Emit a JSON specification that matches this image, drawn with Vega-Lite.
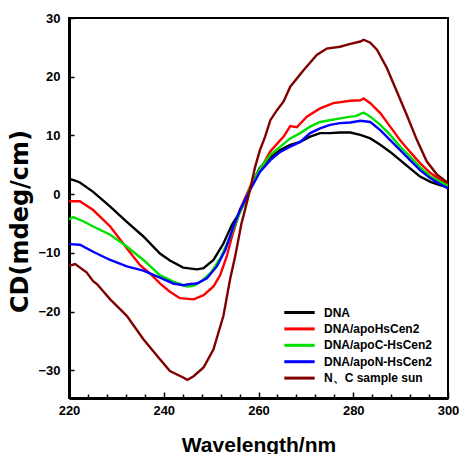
{
  "$schema": "https://vega.github.io/schema/vega-lite/v6.json",
  "autosize": {"type": "none"},
  "width": 379,
  "height": 380,
  "padding": {"left": 69, "top": 18, "right": 14, "bottom": 56},
  "background": "white",
  "config": {
    "view": {"stroke": "#000000", "strokeWidth": 2},
    "font": "Liberation Sans"
  },
  "datasets": {
    "cd": [
      {"s": "DNA", "w": 220, "v": 2.6}, {"s": "DNA", "w": 221, "v": 2.4}, {"s": "DNA", "w": 222.3, "v": 2.0}, {"s": "DNA", "w": 225.1, "v": 0.4}, {"s": "DNA", "w": 228.7, "v": -2.1}, {"s": "DNA", "w": 232.2, "v": -4.7}, {"s": "DNA", "w": 235.7, "v": -7.2}, {"s": "DNA", "w": 239.2, "v": -10.1}, {"s": "DNA", "w": 241.3, "v": -11.3}, {"s": "DNA", "w": 244.1, "v": -12.5}, {"s": "DNA", "w": 247, "v": -12.8}, {"s": "DNA", "w": 248.4, "v": -12.6}, {"s": "DNA", "w": 250.5, "v": -11.2}, {"s": "DNA", "w": 252.6, "v": -8.4}, {"s": "DNA", "w": 254.4, "v": -5.2}, {"s": "DNA", "w": 256.1, "v": -3.0}, {"s": "DNA", "w": 257.5, "v": -0.6}, {"s": "DNA", "w": 258.9, "v": 2.3}, {"s": "DNA", "w": 260.3, "v": 4.5}, {"s": "DNA", "w": 262.5, "v": 6.3}, {"s": "DNA", "w": 264.6, "v": 7.5}, {"s": "DNA", "w": 266.7, "v": 8.4}, {"s": "DNA", "w": 268.8, "v": 8.9}, {"s": "DNA", "w": 270.9, "v": 9.8}, {"s": "DNA", "w": 273, "v": 10.4}, {"s": "DNA", "w": 275.1, "v": 10.4}, {"s": "DNA", "w": 277.2, "v": 10.5}, {"s": "DNA", "w": 279.4, "v": 10.5}, {"s": "DNA", "w": 281.5, "v": 10.1}, {"s": "DNA", "w": 283.6, "v": 9.5}, {"s": "DNA", "w": 285.7, "v": 8.4}, {"s": "DNA", "w": 287.8, "v": 7.2}, {"s": "DNA", "w": 289.9, "v": 5.8}, {"s": "DNA", "w": 292, "v": 4.4}, {"s": "DNA", "w": 294.1, "v": 3.0}, {"s": "DNA", "w": 296.3, "v": 2.1}, {"s": "DNA", "w": 298.4, "v": 1.5}, {"s": "DNA", "w": 300, "v": 1.2},

      {"s": "DNA/apoHsCen2", "w": 220, "v": -1.2}, {"s": "DNA/apoHsCen2", "w": 222.3, "v": -1.2}, {"s": "DNA/apoHsCen2", "w": 225.1, "v": -2.7}, {"s": "DNA/apoHsCen2", "w": 228.7, "v": -5.5}, {"s": "DNA/apoHsCen2", "w": 232.2, "v": -9.2}, {"s": "DNA/apoHsCen2", "w": 235, "v": -12.1}, {"s": "DNA/apoHsCen2", "w": 237.1, "v": -13.5}, {"s": "DNA/apoHsCen2", "w": 239.2, "v": -15.2}, {"s": "DNA/apoHsCen2", "w": 241.3, "v": -16.6}, {"s": "DNA/apoHsCen2", "w": 243.4, "v": -17.7}, {"s": "DNA/apoHsCen2", "w": 246.3, "v": -17.9}, {"s": "DNA/apoHsCen2", "w": 248.4, "v": -17.2}, {"s": "DNA/apoHsCen2", "w": 250.5, "v": -15.7}, {"s": "DNA/apoHsCen2", "w": 251.9, "v": -13.8}, {"s": "DNA/apoHsCen2", "w": 253.3, "v": -10.6}, {"s": "DNA/apoHsCen2", "w": 254.4, "v": -7.2}, {"s": "DNA/apoHsCen2", "w": 255.4, "v": -4.6}, {"s": "DNA/apoHsCen2", "w": 256.1, "v": -2.6}, {"s": "DNA/apoHsCen2", "w": 258.2, "v": 1.2}, {"s": "DNA/apoHsCen2", "w": 260.3, "v": 4.1}, {"s": "DNA/apoHsCen2", "w": 262.5, "v": 7.3}, {"s": "DNA/apoHsCen2", "w": 265.3, "v": 9.8}, {"s": "DNA/apoHsCen2", "w": 266.7, "v": 11.6}, {"s": "DNA/apoHsCen2", "w": 268.1, "v": 11.4}, {"s": "DNA/apoHsCen2", "w": 270.2, "v": 13.2}, {"s": "DNA/apoHsCen2", "w": 273, "v": 14.6}, {"s": "DNA/apoHsCen2", "w": 275.8, "v": 15.5}, {"s": "DNA/apoHsCen2", "w": 279.4, "v": 15.9}, {"s": "DNA/apoHsCen2", "w": 281.5, "v": 16.0}, {"s": "DNA/apoHsCen2", "w": 282.2, "v": 16.3}, {"s": "DNA/apoHsCen2", "w": 283.6, "v": 15.5}, {"s": "DNA/apoHsCen2", "w": 285.7, "v": 13.8}, {"s": "DNA/apoHsCen2", "w": 287.8, "v": 11.5}, {"s": "DNA/apoHsCen2", "w": 289.9, "v": 9.2}, {"s": "DNA/apoHsCen2", "w": 292, "v": 7.2}, {"s": "DNA/apoHsCen2", "w": 294.1, "v": 5.3}, {"s": "DNA/apoHsCen2", "w": 296.3, "v": 3.6}, {"s": "DNA/apoHsCen2", "w": 298.4, "v": 2.4}, {"s": "DNA/apoHsCen2", "w": 300, "v": 1.8},

      {"s": "DNA/apoC-HsCen2", "w": 220, "v": -4.3}, {"s": "DNA/apoC-HsCen2", "w": 220.9, "v": -3.9}, {"s": "DNA/apoC-HsCen2", "w": 223, "v": -4.6}, {"s": "DNA/apoC-HsCen2", "w": 225.1, "v": -5.5}, {"s": "DNA/apoC-HsCen2", "w": 228.7, "v": -6.9}, {"s": "DNA/apoC-HsCen2", "w": 232.2, "v": -8.9}, {"s": "DNA/apoC-HsCen2", "w": 235.7, "v": -11.2}, {"s": "DNA/apoC-HsCen2", "w": 239.2, "v": -13.8}, {"s": "DNA/apoC-HsCen2", "w": 241.3, "v": -14.6}, {"s": "DNA/apoC-HsCen2", "w": 242, "v": -14.9}, {"s": "DNA/apoC-HsCen2", "w": 244.9, "v": -15.7}, {"s": "DNA/apoC-HsCen2", "w": 246.3, "v": -15.6}, {"s": "DNA/apoC-HsCen2", "w": 248, "v": -14.8}, {"s": "DNA/apoC-HsCen2", "w": 250, "v": -13.3}, {"s": "DNA/apoC-HsCen2", "w": 252, "v": -10.8}, {"s": "DNA/apoC-HsCen2", "w": 254, "v": -7.3}, {"s": "DNA/apoC-HsCen2", "w": 256, "v": -3.3}, {"s": "DNA/apoC-HsCen2", "w": 258.2, "v": 1.0}, {"s": "DNA/apoC-HsCen2", "w": 260.3, "v": 4.4}, {"s": "DNA/apoC-HsCen2", "w": 262.5, "v": 6.7}, {"s": "DNA/apoC-HsCen2", "w": 264.6, "v": 8.1}, {"s": "DNA/apoC-HsCen2", "w": 266.7, "v": 9.5}, {"s": "DNA/apoC-HsCen2", "w": 268.8, "v": 10.4}, {"s": "DNA/apoC-HsCen2", "w": 270.9, "v": 11.5}, {"s": "DNA/apoC-HsCen2", "w": 273, "v": 12.3}, {"s": "DNA/apoC-HsCen2", "w": 275.1, "v": 12.6}, {"s": "DNA/apoC-HsCen2", "w": 277.2, "v": 12.9}, {"s": "DNA/apoC-HsCen2", "w": 279.4, "v": 13.2}, {"s": "DNA/apoC-HsCen2", "w": 280.5, "v": 13.3}, {"s": "DNA/apoC-HsCen2", "w": 282.2, "v": 13.9}, {"s": "DNA/apoC-HsCen2", "w": 283.6, "v": 13.2}, {"s": "DNA/apoC-HsCen2", "w": 285.7, "v": 11.8}, {"s": "DNA/apoC-HsCen2", "w": 287.8, "v": 10.1}, {"s": "DNA/apoC-HsCen2", "w": 289.9, "v": 8.1}, {"s": "DNA/apoC-HsCen2", "w": 292, "v": 6.4}, {"s": "DNA/apoC-HsCen2", "w": 294.1, "v": 4.6}, {"s": "DNA/apoC-HsCen2", "w": 296.3, "v": 3.0}, {"s": "DNA/apoC-HsCen2", "w": 298.4, "v": 2.1}, {"s": "DNA/apoC-HsCen2", "w": 300, "v": 1.4},

      {"s": "DNA/apoN-HsCen2", "w": 220, "v": -8.5}, {"s": "DNA/apoN-HsCen2", "w": 222.3, "v": -8.6}, {"s": "DNA/apoN-HsCen2", "w": 225.1, "v": -9.8}, {"s": "DNA/apoN-HsCen2", "w": 228.7, "v": -11.2}, {"s": "DNA/apoN-HsCen2", "w": 232.2, "v": -12.3}, {"s": "DNA/apoN-HsCen2", "w": 235.7, "v": -13.0}, {"s": "DNA/apoN-HsCen2", "w": 239.2, "v": -14.2}, {"s": "DNA/apoN-HsCen2", "w": 242, "v": -15.2}, {"s": "DNA/apoN-HsCen2", "w": 244.1, "v": -15.5}, {"s": "DNA/apoN-HsCen2", "w": 245.6, "v": -15.3}, {"s": "DNA/apoN-HsCen2", "w": 247, "v": -15.2}, {"s": "DNA/apoN-HsCen2", "w": 249.1, "v": -14.3}, {"s": "DNA/apoN-HsCen2", "w": 251.2, "v": -12.3}, {"s": "DNA/apoN-HsCen2", "w": 253, "v": -9.5}, {"s": "DNA/apoN-HsCen2", "w": 254.7, "v": -5.5}, {"s": "DNA/apoN-HsCen2", "w": 256.1, "v": -2.7}, {"s": "DNA/apoN-HsCen2", "w": 258.2, "v": 0.7}, {"s": "DNA/apoN-HsCen2", "w": 260.3, "v": 3.8}, {"s": "DNA/apoN-HsCen2", "w": 262.5, "v": 5.8}, {"s": "DNA/apoN-HsCen2", "w": 264.6, "v": 7.2}, {"s": "DNA/apoN-HsCen2", "w": 266.7, "v": 8.1}, {"s": "DNA/apoN-HsCen2", "w": 268.8, "v": 8.9}, {"s": "DNA/apoN-HsCen2", "w": 270.9, "v": 10.4}, {"s": "DNA/apoN-HsCen2", "w": 273, "v": 11.2}, {"s": "DNA/apoN-HsCen2", "w": 275.1, "v": 11.8}, {"s": "DNA/apoN-HsCen2", "w": 277.2, "v": 12.1}, {"s": "DNA/apoN-HsCen2", "w": 279.4, "v": 12.2}, {"s": "DNA/apoN-HsCen2", "w": 281.5, "v": 12.5}, {"s": "DNA/apoN-HsCen2", "w": 283.6, "v": 12.3}, {"s": "DNA/apoN-HsCen2", "w": 285.7, "v": 10.9}, {"s": "DNA/apoN-HsCen2", "w": 287.8, "v": 9.2}, {"s": "DNA/apoN-HsCen2", "w": 289.9, "v": 7.5}, {"s": "DNA/apoN-HsCen2", "w": 292, "v": 5.8}, {"s": "DNA/apoN-HsCen2", "w": 294.1, "v": 4.1}, {"s": "DNA/apoN-HsCen2", "w": 296.3, "v": 2.7}, {"s": "DNA/apoN-HsCen2", "w": 298.4, "v": 1.7}, {"s": "DNA/apoN-HsCen2", "w": 300, "v": 1.0},

      {"s": "N、C sample sun", "w": 220, "v": -12.2}, {"s": "N、C sample sun", "w": 221.3, "v": -11.9}, {"s": "N、C sample sun", "w": 223.7, "v": -13.3}, {"s": "N、C sample sun", "w": 225.1, "v": -14.8}, {"s": "N、C sample sun", "w": 225.9, "v": -15.3}, {"s": "N、C sample sun", "w": 228.7, "v": -17.9}, {"s": "N、C sample sun", "w": 232.2, "v": -20.7}, {"s": "N、C sample sun", "w": 235.7, "v": -24.7}, {"s": "N、C sample sun", "w": 239.2, "v": -28.1}, {"s": "N、C sample sun", "w": 241.3, "v": -30.1}, {"s": "N、C sample sun", "w": 244.1, "v": -31.2}, {"s": "N、C sample sun", "w": 245, "v": -31.6}, {"s": "N、C sample sun", "w": 246.3, "v": -31.0}, {"s": "N、C sample sun", "w": 248.4, "v": -29.5}, {"s": "N、C sample sun", "w": 250.5, "v": -26.4}, {"s": "N、C sample sun", "w": 252.6, "v": -20.7}, {"s": "N、C sample sun", "w": 254, "v": -14.5}, {"s": "N、C sample sun", "w": 255.1, "v": -10.5}, {"s": "N、C sample sun", "w": 256.4, "v": -5.0}, {"s": "N、C sample sun", "w": 257.2, "v": -2.5}, {"s": "N、C sample sun", "w": 258.2, "v": 0.7}, {"s": "N、C sample sun", "w": 259.3, "v": 4.7}, {"s": "N、C sample sun", "w": 260.3, "v": 7.5}, {"s": "N、C sample sun", "w": 261.4, "v": 9.8}, {"s": "N、C sample sun", "w": 262.5, "v": 12.6}, {"s": "N、C sample sun", "w": 263.9, "v": 14.3}, {"s": "N、C sample sun", "w": 265.3, "v": 15.8}, {"s": "N、C sample sun", "w": 266.7, "v": 18.3}, {"s": "N、C sample sun", "w": 269.5, "v": 21.1}, {"s": "N、C sample sun", "w": 272.3, "v": 23.7}, {"s": "N、C sample sun", "w": 274.4, "v": 24.8}, {"s": "N、C sample sun", "w": 277.2, "v": 25.1}, {"s": "N、C sample sun", "w": 279.4, "v": 25.6}, {"s": "N、C sample sun", "w": 281.5, "v": 26.0}, {"s": "N、C sample sun", "w": 282.2, "v": 26.3}, {"s": "N、C sample sun", "w": 283.6, "v": 25.8}, {"s": "N、C sample sun", "w": 285, "v": 24.6}, {"s": "N、C sample sun", "w": 287.1, "v": 21.5}, {"s": "N、C sample sun", "w": 289.2, "v": 17.5}, {"s": "N、C sample sun", "w": 291.3, "v": 13.5}, {"s": "N、C sample sun", "w": 293.4, "v": 9.3}, {"s": "N、C sample sun", "w": 295.5, "v": 5.6}, {"s": "N、C sample sun", "w": 297.7, "v": 3.3}, {"s": "N、C sample sun", "w": 300, "v": 1.9}
    ]
  },
  "data": {"name": "cd"},
  "mark": {"type": "line", "strokeWidth": 2.4, "clip": true},
  "encoding": {
    "x": {
      "field": "w", "type": "quantitative",
      "scale": {"domain": [220, 300], "nice": false, "zero": false},
      "axis": {
        "title": "Wavelength/nm",
        "titleFont": "Liberation Sans", "titleFontSize": 21, "titleFontWeight": "bold", "titleColor": "#000000", "titlePadding": 15,
        "values": [220, 224, 228, 232, 236, 240, 244, 248, 252, 256, 260, 264, 268, 272, 276, 280, 284, 288, 292, 296, 300],
        "labelExpr": "datum.value % 20 === 0 ? datum.label : ''",
        "labelFont": "Liberation Sans", "labelFontSize": 13, "labelFontWeight": "bold", "labelColor": "#000000",
        "labelPadding": 12, "labelFlush": false, "labelOverlap": false,
        "tickSize": {"condition": {"test": "datum.value % 20 === 0", "value": -6}, "value": -4},
        "tickColor": "#000000", "tickWidth": 1.5,
        "domainColor": "#000000", "domainWidth": 3, "grid": false
      }
    },
    "y": {
      "field": "v", "type": "quantitative",
      "scale": {"domain": [-34.7, 30], "nice": false, "zero": false},
      "axis": {
        "title": "CD(mdeg/cm)",
        "titleFont": "DejaVu Sans", "titleFontSize": 24, "titleFontWeight": "bold", "titleColor": "#000000", "titlePadding": 5,
        "titleY": 203,
        "values": [-30, -20, -10, 0, 10, 20, 30],
        "labelFont": "Liberation Sans", "labelFontSize": 13, "labelFontWeight": "bold", "labelColor": "#000000",
        "labelPadding": 14, "labelFlush": false,
        "tickSize": -5, "tickColor": "#000000", "tickWidth": 1.5,
        "domainColor": "#000000", "domainWidth": 3, "grid": false
      }
    },
    "color": {
      "field": "s", "type": "nominal",
      "scale": {
        "domain": ["DNA", "DNA/apoHsCen2", "DNA/apoC-HsCen2", "DNA/apoN-HsCen2", "N、C sample sun"],
        "range": ["#000000", "#ff0000", "#00e000", "#0000ff", "#800000"]
      },
      "legend": {
        "orient": "none", "legendX": 221, "legendY": 285, "title": null, "padding": 0,
        "symbolType": "M-1.9,0H1.9", "symbolSize": 256, "symbolStrokeWidth": 3,
        "labelFont": "Liberation Sans", "labelFontSize": 12, "labelFontWeight": "bold", "labelColor": "#000000",
        "labelOffset": 15, "rowPadding": 0.4
      }
    }
  }
}
